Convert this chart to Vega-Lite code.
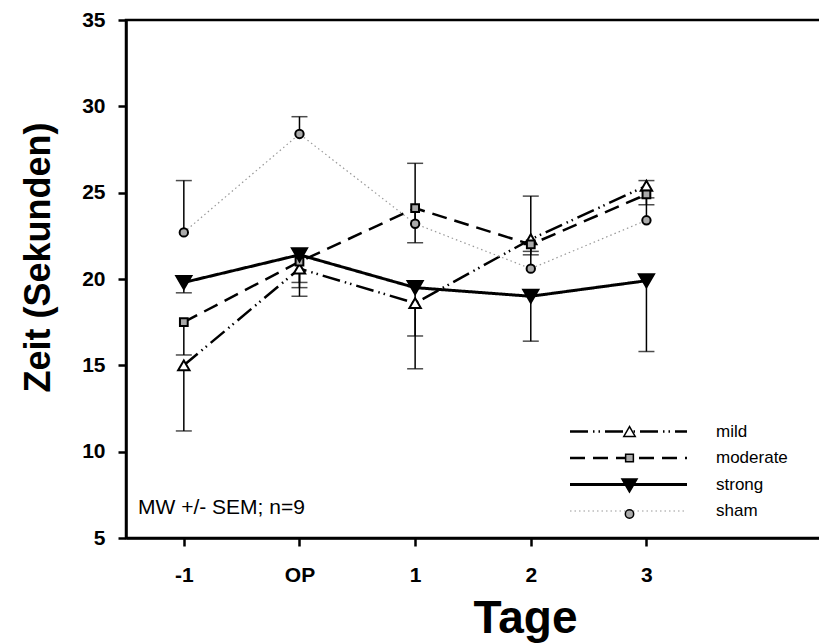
{
  "$schema": "https://vega.github.io/schema/vega-lite/v6.json",
  "autosize": {"type": "none"},
  "padding": {"left": 126, "top": 20, "right": 0, "bottom": 106},
  "width": 798,
  "height": 518,
  "config": {
    "font": "Liberation Sans",
    "view": {"stroke": "black", "strokeWidth": 2.5},
    "axis": {"grid": false, "domainColor": "black", "domainWidth": 2.5, "tickColor": "black", "tickWidth": 2.5, "tickSize": 8, "labelFont": "Liberation Sans", "labelFontWeight": "bold", "labelFontSize": 21, "labelColor": "black", "titleFont": "Liberation Sans", "titleFontWeight": "bold", "titleColor": "black"},
    "legend": {"labelFont": "Liberation Sans", "labelFontSize": 17, "labelColor": "black"}
  },
  "resolve": {"legend": {"shape": "independent", "fill": "independent", "size": "independent"}},
  "data": {
    "values": [
      {"day": "-1", "xi": 0, "series": "mild", "mean": 15.0, "end": 11.2},
      {"day": "OP", "xi": 1, "series": "mild", "mean": 20.6, "end": 19.8},
      {"day": "1", "xi": 2, "series": "mild", "mean": 18.6, "end": 16.7},
      {"day": "2", "xi": 3, "series": "mild", "mean": 22.3, "end": 21.6},
      {"day": "3", "xi": 4, "series": "mild", "mean": 25.4, "end": 24.7},
      {"day": "-1", "xi": 0, "series": "moderate", "mean": 17.5, "end": 15.6},
      {"day": "OP", "xi": 1, "series": "moderate", "mean": 21.0, "end": 19.5},
      {"day": "1", "xi": 2, "series": "moderate", "mean": 24.1, "end": 22.1},
      {"day": "2", "xi": 3, "series": "moderate", "mean": 22.0, "end": 21.4},
      {"day": "3", "xi": 4, "series": "moderate", "mean": 24.9, "end": 24.3},
      {"day": "-1", "xi": 0, "series": "strong", "mean": 19.8, "end": 19.2},
      {"day": "OP", "xi": 1, "series": "strong", "mean": 21.4, "end": 19.0},
      {"day": "1", "xi": 2, "series": "strong", "mean": 19.5, "end": 14.8},
      {"day": "2", "xi": 3, "series": "strong", "mean": 19.0, "end": 16.4},
      {"day": "3", "xi": 4, "series": "strong", "mean": 19.9, "end": 15.8},
      {"day": "-1", "xi": 0, "series": "sham", "mean": 22.7, "end": 25.7},
      {"day": "OP", "xi": 1, "series": "sham", "mean": 28.4, "end": 29.4},
      {"day": "1", "xi": 2, "series": "sham", "mean": 23.2, "end": 26.7},
      {"day": "2", "xi": 3, "series": "sham", "mean": 20.6, "end": 24.8},
      {"day": "3", "xi": 4, "series": "sham", "mean": 23.4, "end": 25.7}
    ]
  },
  "encoding": {
    "x": {"field": "xi", "type": "quantitative", "scale": {"domain": [-0.5, 6.4], "nice": false, "zero": false},
      "axis": {"values": [0, 1, 2, 3, 4], "labelExpr": "['-1','OP','1','2','3'][datum.value]", "title": "Tage", "titleFontSize": 46, "labelPadding": 18, "titlePadding": 11}},
    "y": {"field": "mean", "type": "quantitative", "scale": {"domain": [5, 35], "nice": false, "zero": false},
      "axis": {"values": [5, 10, 15, 20, 25, 30, 35], "title": "Zeit (Sekunden)", "titleFontSize": 36, "labelPadding": 13, "titlePadding": 24, "titleY": 237}}
  },
  "layer": [
    {
      "mark": {"type": "line"},
      "encoding": {
        "strokeDash": {"field": "series", "type": "nominal", "scale": {"domain": ["mild", "moderate", "strong", "sham"], "range": [[18, 5, 1.5, 4, 1.5, 5], [15, 8], [1, 0], [1.5, 3]]},
          "legend": {"title": null, "orient": "none", "legendX": 494, "legendY": 403, "symbolType": "M-11.7,0H11.7", "symbolSize": 100, "labelOffset": 79, "rowPadding": 8.5, "padding": 0}},
        "stroke": {"field": "series", "type": "nominal", "scale": {"domain": ["mild", "moderate", "strong", "sham"], "range": ["black", "black", "black", "#999999"]},
          "legend": {"title": null, "orient": "none", "legendX": 494, "legendY": 403, "symbolType": "M-11.7,0H11.7", "symbolSize": 100, "labelOffset": 79, "rowPadding": 8.5, "padding": 0}},
        "strokeWidth": {"field": "series", "type": "nominal", "scale": {"type": "ordinal", "domain": ["mild", "moderate", "strong", "sham"], "range": [2.5, 2.5, 3, 1.2]},
          "legend": {"title": null, "orient": "none", "legendX": 494, "legendY": 403, "symbolType": "M-11.7,0H11.7", "symbolSize": 100, "labelOffset": 79, "rowPadding": 8.5, "padding": 0}}
      }
    },
    {
      "mark": {"type": "rule", "color": "black", "strokeWidth": 1.5},
      "encoding": {"y2": {"field": "end"}}
    },
    {
      "mark": {"type": "tick", "orient": "horizontal", "color": "black", "size": 16, "thickness": 1.5},
      "encoding": {"y": {"field": "end", "type": "quantitative"}}
    },
    {
      "mark": {"type": "point", "filled": false, "stroke": "black", "strokeWidth": 2, "opacity": 1},
      "encoding": {
        "shape": {"field": "series", "type": "nominal", "scale": {"domain": ["mild", "moderate", "strong", "sham"], "range": ["triangle-up", "square", "triangle-down", "circle"]},
          "legend": {"title": null, "orient": "none", "legendX": 495, "legendY": 403, "labelExpr": "''", "rowPadding": 8.5, "padding": 0, "encode": {"symbols": {"update": {"stroke": {"value": "black"}, "strokeWidth": {"value": 2}, "opacity": {"value": 1}}}}}},
        "fill": {"field": "series", "type": "nominal", "scale": {"domain": ["mild", "moderate", "strong", "sham"], "range": ["white", "#aaaaaa", "black", "#aaaaaa"]},
          "legend": {"title": null, "orient": "none", "legendX": 495, "legendY": 403, "labelExpr": "''", "rowPadding": 8.5, "padding": 0, "encode": {"symbols": {"update": {"stroke": {"value": "black"}, "strokeWidth": {"value": 2}, "opacity": {"value": 1}}}}}},
        "size": {"field": "series", "type": "nominal", "scale": {"type": "ordinal", "domain": ["mild", "moderate", "strong", "sham"], "range": [130, 60, 230, 70]},
          "legend": {"title": null, "orient": "none", "legendX": 495, "legendY": 403, "labelExpr": "''", "rowPadding": 8.5, "padding": 0, "encode": {"symbols": {"update": {"stroke": {"value": "black"}, "strokeWidth": {"value": 2}, "opacity": {"value": 1}}}}}}
      }
    },
    {
      "transform": [{"filter": "datum.xi == 0 && datum.series == 'mild'"}],
      "mark": {"type": "text", "align": "left", "baseline": "middle", "fontSize": 21, "font": "Liberation Sans", "fill": "black"},
      "encoding": {"x": {"datum": -0.396, "type": "quantitative"}, "y": {"datum": 6.74, "type": "quantitative"}, "text": {"value": "MW +/- SEM; n=9"}}
    }
  ]
}
